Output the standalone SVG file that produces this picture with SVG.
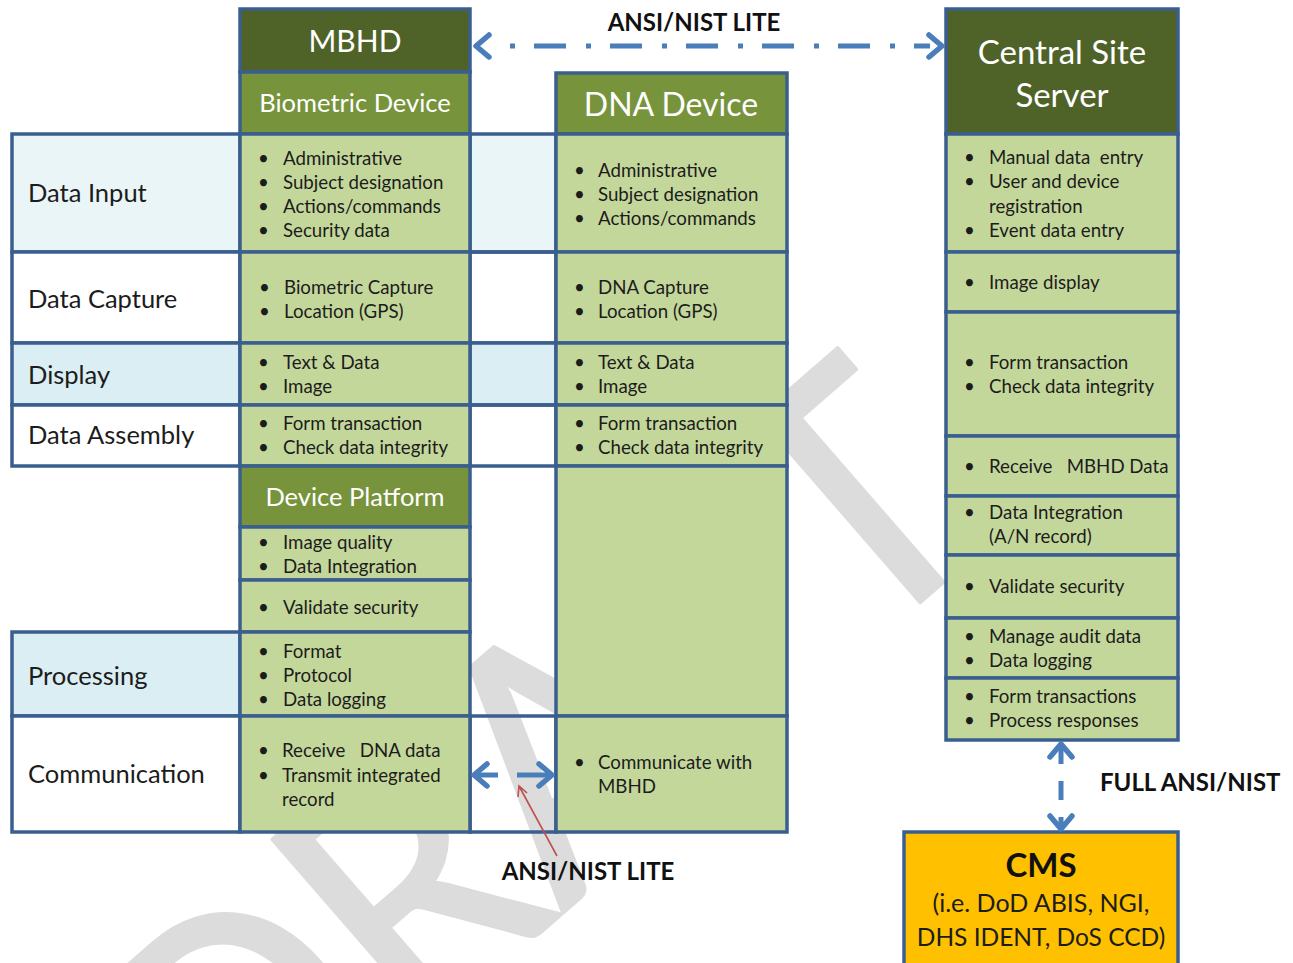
<svg xmlns="http://www.w3.org/2000/svg" width="1293" height="963" viewBox="0 0 1293 963">
<defs>
<style>
text{font-family:Lato,"Liberation Sans",sans-serif;fill:#1c1c1c}
.c{stroke:#3a5f8e;stroke-width:3.5}
.lg{fill:#c4d79b}
.mg{fill:#77933c}
.dg{fill:#4f6228}
.lb{fill:#eaf5f8}
.mb{fill:#dbeef3}
.w{fill:#ffffff}
.n{fill:none}
.b{font-size:18.7px}
.pre{white-space:pre}
.lab{font-size:25.5px}
.hw{fill:#ffffff;text-anchor:middle}
.bold{font-weight:bold;font-size:24px;fill:#111}
.arr{fill:none;stroke:#4a7ebb;stroke-width:5}
.chev{fill:none;stroke:#4a7ebb;stroke-width:5.5;stroke-linecap:round;stroke-linejoin:round}
.wm{font-family:Lato,"Liberation Sans",sans-serif;font-size:343px;fill:#dcdcdc;stroke:#dcdcdc;stroke-width:4;stroke-linejoin:round}
</style>
<path id="chev" d="M 13 -11 L 0 0 L 13 11"/>
</defs>
<rect x="0" y="0" width="1293" height="963" fill="#ffffff"/>
<g id="watermark">
<text class="wm" transform="translate(229,1203) rotate(-41)" textLength="1025" lengthAdjust="spacingAndGlyphs">DRAFT</text>
</g>
<g id="labels">
<g id="row-data-input"><rect class="c lb" x="12" y="134" width="228" height="118"/><text class="lab" x="28" y="202">Data Input</text></g>
<g id="row-data-capture"><rect class="c w" x="12" y="252" width="228" height="91"/><text class="lab" x="28" y="308">Data Capture</text></g>
<g id="row-display"><rect class="c mb" x="12" y="343" width="228" height="62"/><text class="lab" x="28" y="384">Display</text></g>
<g id="row-data-assembly"><rect class="c w" x="12" y="405" width="228" height="61"/><text class="lab" x="28" y="444">Data Assembly</text></g>
<g id="row-processing"><rect class="c mb" x="12" y="632" width="228" height="84"/><text class="lab" x="28" y="685">Processing</text></g>
<g id="row-communication"><rect class="c w" x="12" y="716" width="228" height="116"/><text class="lab" x="28" y="783">Communication</text></g>
</g>
<g id="gap-cells">
<rect class="c lb" x="470" y="134" width="86" height="118"/>
<rect class="c n" x="470" y="252" width="86" height="91"/>
<rect class="c mb" x="470" y="343" width="86" height="62"/>
<rect class="c n" x="470" y="405" width="86" height="61"/>
<rect class="c n" x="470" y="716" width="86" height="116"/>
</g>
<g id="mbhd">
<rect class="c dg" x="240" y="9" width="230" height="63"/>
<text class="hw" x="355" y="52" style="font-size:30px">MBHD</text>
</g>
<g id="biometric-device">
<rect class="c mg" x="240" y="72" width="230" height="62"/>
<text class="hw" x="355" y="112" style="font-size:25.5px">Biometric Device</text>
<rect class="c lg" x="240" y="134" width="230" height="118"/>
<text class="b" x="258" y="165">•</text><text class="b" x="283" y="165">Administrative</text>
<text class="b" x="258" y="189">•</text><text class="b" x="283" y="189">Subject designation</text>
<text class="b" x="258" y="213">•</text><text class="b" x="283" y="213">Actions/commands</text>
<text class="b" x="258" y="237">•</text><text class="b" x="283" y="237">Security data</text>
<rect class="c lg" x="240" y="252" width="230" height="91"/>
<text class="b" x="259" y="294">•</text><text class="b" x="284" y="294">Biometric Capture</text>
<text class="b" x="259" y="318">•</text><text class="b" x="284" y="318">Location (GPS)</text>
<rect class="c lg" x="240" y="343" width="230" height="62"/>
<text class="b" x="258" y="369">•</text><text class="b" x="283" y="369">Text &amp; Data</text>
<text class="b" x="258" y="393">•</text><text class="b" x="283" y="393">Image</text>
<rect class="c lg" x="240" y="405" width="230" height="61"/>
<text class="b" x="258" y="430">•</text><text class="b" x="283" y="430">Form transaction</text>
<text class="b" x="258" y="454">•</text><text class="b" x="283" y="454">Check data integrity</text>
</g>
<g id="device-platform">
<rect class="c mg" x="240" y="466" width="230" height="61"/>
<text class="hw" x="355" y="506" style="font-size:25.5px">Device Platform</text>
<rect class="c lg" x="240" y="527" width="230" height="53"/>
<text class="b" x="258" y="549">•</text><text class="b" x="283" y="549">Image quality</text>
<text class="b" x="258" y="573">•</text><text class="b" x="283" y="573">Data Integration</text>
<rect class="c lg" x="240" y="580" width="230" height="52"/>
<text class="b" x="258" y="614">•</text><text class="b" x="283" y="614">Validate security</text>
<rect class="c lg" x="240" y="632" width="230" height="84"/>
<text class="b" x="258" y="658">•</text><text class="b" x="283" y="658">Format</text>
<text class="b" x="258" y="682">•</text><text class="b" x="283" y="682">Protocol</text>
<text class="b" x="258" y="706">•</text><text class="b" x="283" y="706">Data logging</text>
<rect class="c lg" x="240" y="716" width="230" height="116"/>
<text class="b" x="258" y="757">•</text><text class="b pre" x="282" y="757">Receive   DNA data</text>
<text class="b" x="258" y="782">•</text><text class="b" x="282" y="782">Transmit integrated</text>
<text class="b" x="282" y="806">record</text>
</g>
<g id="dna-device">
<rect class="c mg" x="556" y="73" width="231" height="61"/>
<text class="hw" x="671" y="116" style="font-size:32px">DNA Device</text>
<rect class="c lg" x="556" y="134" width="231" height="118"/>
<text class="b" x="574" y="177">•</text><text class="b" x="598" y="177">Administrative</text>
<text class="b" x="574" y="201">•</text><text class="b" x="598" y="201">Subject designation</text>
<text class="b" x="574" y="225">•</text><text class="b" x="598" y="225">Actions/commands</text>
<rect class="c lg" x="556" y="252" width="231" height="91"/>
<text class="b" x="574" y="294">•</text><text class="b" x="598" y="294">DNA Capture</text>
<text class="b" x="574" y="318">•</text><text class="b" x="598" y="318">Location (GPS)</text>
<rect class="c lg" x="556" y="343" width="231" height="62"/>
<text class="b" x="574" y="369">•</text><text class="b" x="598" y="369">Text &amp; Data</text>
<text class="b" x="574" y="393">•</text><text class="b" x="598" y="393">Image</text>
<rect class="c lg" x="556" y="405" width="231" height="61"/>
<text class="b" x="574" y="430">•</text><text class="b" x="598" y="430">Form transaction</text>
<text class="b" x="574" y="454">•</text><text class="b" x="598" y="454">Check data integrity</text>
<rect class="c lg" x="556" y="466" width="231" height="250"/>
<rect class="c lg" x="556" y="716" width="231" height="116"/>
<text class="b" x="574" y="769">•</text><text class="b" x="598" y="769">Communicate with</text>
<text class="b" x="598" y="793">MBHD</text>
</g>
<g id="central-site-server">
<rect class="c dg" x="946" y="9" width="232" height="125"/>
<text class="hw" x="1062" y="64" style="font-size:33px">Central Site</text>
<text class="hw" x="1062" y="107" style="font-size:33px">Server</text>
<rect class="c lg" x="946" y="134" width="232" height="118"/>
<text class="b" x="964" y="164">•</text><text class="b pre" x="989" y="164">Manual data  entry</text>
<text class="b" x="964" y="188">•</text><text class="b" x="989" y="188">User and device</text>
<text class="b" x="989" y="213">registration</text>
<text class="b" x="964" y="237">•</text><text class="b" x="989" y="237">Event data entry</text>
<rect class="c lg" x="946" y="252" width="232" height="60"/>
<text class="b" x="964" y="289">•</text><text class="b" x="989" y="289">Image display</text>
<rect class="c lg" x="946" y="312" width="232" height="124"/>
<text class="b" x="964" y="369">•</text><text class="b" x="989" y="369">Form transaction</text>
<text class="b" x="964" y="393">•</text><text class="b" x="989" y="393">Check data integrity</text>
<rect class="c lg" x="946" y="436" width="232" height="60"/>
<text class="b" x="964" y="473">•</text><text class="b pre" x="989" y="473">Receive   MBHD Data</text>
<rect class="c lg" x="946" y="496" width="232" height="59"/>
<text class="b" x="964" y="519">•</text><text class="b" x="989" y="519">Data Integration</text>
<text class="b" x="989" y="543">(A/N record)</text>
<rect class="c lg" x="946" y="555" width="232" height="63"/>
<text class="b" x="964" y="593">•</text><text class="b" x="989" y="593">Validate security</text>
<rect class="c lg" x="946" y="618" width="232" height="60"/>
<text class="b" x="964" y="643">•</text><text class="b" x="989" y="643">Manage audit data</text>
<text class="b" x="964" y="667">•</text><text class="b" x="989" y="667">Data logging</text>
<rect class="c lg" x="946" y="678" width="232" height="62"/>
<text class="b" x="964" y="703">•</text><text class="b" x="989" y="703">Form transactions</text>
<text class="b" x="964" y="727">•</text><text class="b" x="989" y="727">Process responses</text>
</g>
<g id="cms">
<rect class="c" fill="#ffc000" x="904" y="832" width="274" height="140"/>
<text x="1041" y="877" style="font-size:33px;font-weight:bold;text-anchor:middle;fill:#111">CMS</text>
<text x="1041" y="912" style="font-size:25px;text-anchor:middle">(i.e. DoD ABIS, NGI,</text>
<text x="1041" y="946" style="font-size:24.5px;text-anchor:middle">DHS IDENT, DoS CCD)</text>
</g>
<g id="connectors">
<path class="arr" d="M 490 46 L 930 46" stroke-dasharray="5 19 32 20" stroke-dashoffset="56"/>
<use href="#chev" class="chev" transform="translate(476,46)"/>
<use href="#chev" class="chev" transform="translate(942,46) rotate(180)"/>
<path class="arr" d="M 474 775 L 498 775 M 517 775 L 551 775"/>
<use href="#chev" class="chev" transform="translate(474,775)"/>
<use href="#chev" class="chev" transform="translate(552,775) rotate(180)"/>
<path class="arr" d="M 1061 745 L 1061 829" stroke-dasharray="19 17"/>
<use href="#chev" class="chev" transform="translate(1061,744) rotate(90)"/>
<use href="#chev" class="chev" transform="translate(1061,829) rotate(-90)"/>
<path d="M 557 856 L 519 786 M 518 797 L 519 786 L 527 793" fill="none" stroke="#c0504d" stroke-width="1.6"/>
</g>
<g id="connector-labels">
<text class="bold" x="694" y="31" text-anchor="middle">ANSI/NIST LITE</text>
<text class="bold" x="588" y="880" text-anchor="middle">ANSI/NIST LITE</text>
<text class="bold" x="1100" y="791">FULL ANSI/NIST</text>
</g>
</svg>
